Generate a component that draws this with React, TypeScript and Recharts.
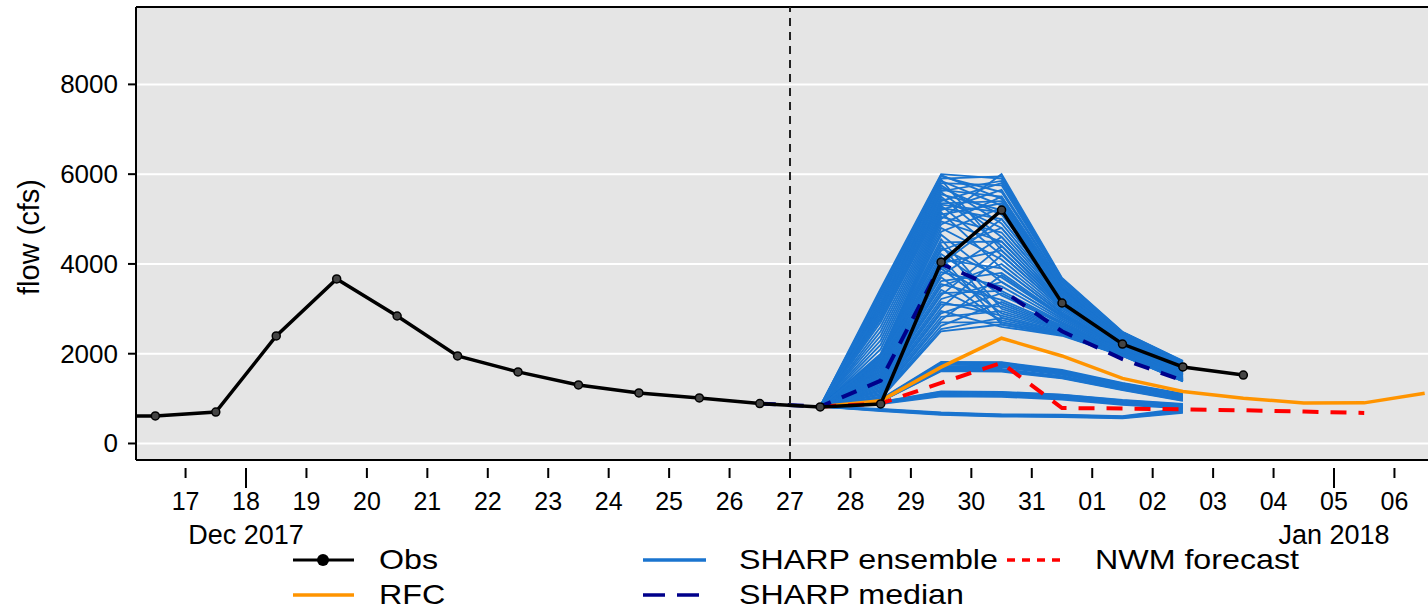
import {
  LineChart,
  Line,
  XAxis,
  YAxis,
  CartesianGrid,
  ReferenceLine,
} from "recharts";

/* ---------- data (x = day index: Dec d -> d, Jan d -> 31 + d, noon = .5) ---------- */

const obsDays = [15.5, 16.5, 17.5, 18.5, 19.5, 20.5, 21.5, 22.5, 23.5, 24.5, 25.5, 26.5, 27.5, 28.5, 29.5, 30.5, 31.5, 32.5, 33.5, 34.5];
const obsFlow = [600, 615, 700, 2395, 3665, 2840, 1950, 1595, 1305, 1125, 1015, 890, 815, 880, 4040, 5200, 3130, 2215, 1705, 1525];

const rfcDays = [27.5, 28.5, 29.5, 30.5, 31.5, 32.5, 33.5, 34.5, 35.5, 36.5, 37.5];
const rfcFlow = [820, 950, 1700, 2345, 1950, 1450, 1160, 1010, 900, 905, 1120];

const nwmDays = [27.5, 28.5, 29.5, 30.5, 31.5, 32.5, 33.5, 34.5, 35.5, 36.5];
const nwmFlow = [820, 890, 1350, 1795, 790, 780, 760, 740, 710, 680];

const medianDays = [26.5, 27.5, 28.5, 29.5, 30.5, 31.5, 32.5, 33.5];
const medianFlow = [890, 820, 1400, 4000, 3420, 2500, 1880, 1400];

// SHARP ensemble members, values at Dec 27.5 ... Jan 2.5
const ensembleDays = [27.5, 28.5, 29.5, 30.5, 31.5, 32.5, 33.5];
const ensembleMembers = [
  // early risers
  [830, 3450, 6000, 5900, 3650, 2475, 1826],
  [830, 3400, 5950, 5600, 3540, 2430, 1788],
  [820, 3350, 5900, 5950, 3670, 2480, 1830],
  [820, 3300, 5850, 5300, 3430, 2380, 1745],
  [830, 3250, 5800, 5750, 3600, 2455, 1810],
  [820, 3200, 5750, 4900, 3270, 2315, 1690],
  [810, 3150, 5700, 5100, 3350, 2350, 1720],
  [820, 3100, 5650, 5500, 3500, 2410, 1770],
  [830, 3050, 5600, 4600, 3160, 2270, 1652],
  [820, 3000, 5550, 5200, 3390, 2365, 1733],
  [810, 2950, 5500, 4400, 3080, 2235, 1622],
  [820, 2900, 5450, 4800, 3240, 2305, 1682],
  [830, 2850, 5400, 5800, 3620, 2460, 1814],
  [820, 2800, 5350, 5400, 3460, 2395, 1758],
  [820, 2700, 5300, 4200, 3010, 2205, 1597],
  [810, 2600, 5250, 5000, 3310, 2330, 1703],
  [820, 2500, 5200, 5650, 3560, 2440, 1797],
  [830, 2400, 5150, 3900, 2890, 2155, 1554],
  [820, 2300, 5100, 5350, 3450, 2390, 1754],
  [820, 2200, 5050, 4700, 3200, 2285, 1665],
  [810, 2100, 5000, 6000, 3690, 2490, 1840],
  [820, 2000, 4950, 4500, 3120, 2250, 1635],
  [830, 3380, 5980, 5450, 3480, 2405, 1767],
  [820, 3020, 5620, 5850, 3640, 2470, 1822],
  [820, 3280, 5880, 4300, 3050, 2225, 1610],
  [820, 2760, 5320, 5150, 3370, 2355, 1725],
  // main cluster
  [820, 1960, 4880, 5500, 3500, 2400, 1760],
  [820, 1950, 4800, 4100, 2970, 2190, 1584],
  [820, 1940, 4720, 5250, 3400, 2360, 1735],
  [820, 1930, 4650, 3600, 2780, 2110, 1516],
  [820, 1920, 4550, 3000, 2550, 2013, 1434],
  [830, 1890, 4480, 4500, 3120, 2252, 1637],
  [820, 1860, 4420, 2800, 2475, 1982, 1407],
  [820, 1830, 4350, 3700, 2820, 2126, 1530],
  [810, 1800, 4300, 4800, 3235, 2301, 1678],
  [820, 1770, 4220, 3300, 2665, 2061, 1474],
  [830, 1740, 4150, 2650, 2420, 1958, 1387],
  [820, 1710, 4100, 3900, 2895, 2158, 1557],
  [820, 1680, 4020, 4300, 3045, 2221, 1610],
  [810, 1650, 3950, 3100, 2590, 2030, 1448],
  [820, 1620, 3900, 2900, 2515, 1998, 1421],
  [830, 1590, 3820, 3500, 2740, 2093, 1502],
  [820, 1560, 3750, 4600, 3160, 2269, 1651],
  [820, 1530, 3700, 2700, 2440, 1967, 1394],
  [810, 1500, 3620, 3800, 2855, 2141, 1542],
  [820, 1470, 3550, 3200, 2630, 2047, 1462],
  [830, 1440, 3500, 4000, 2930, 2173, 1570],
  [820, 1410, 3420, 2750, 2455, 1973, 1400],
  [820, 1380, 3350, 3400, 2705, 2078, 1489],
  [810, 1350, 3300, 4400, 3085, 2238, 1625],
  [820, 1320, 3220, 3600, 2780, 2110, 1516],
  [830, 1290, 3150, 2850, 2495, 1990, 1414],
  [820, 1260, 3100, 3050, 2570, 2021, 1440],
  [820, 1230, 3020, 4200, 3010, 2206, 1598],
  [810, 1200, 2950, 2600, 2400, 1950, 1380],
  [820, 1170, 2900, 3350, 2685, 2070, 1482],
  [830, 1140, 2820, 2950, 2535, 2007, 1428],
  [820, 1110, 2750, 3750, 2835, 2133, 1536],
  [820, 1080, 2700, 2700, 2440, 1967, 1394],
  [810, 1050, 2620, 3150, 2610, 2038, 1455],
  [820, 1020, 2550, 2800, 2475, 1982, 1407],
  [830, 1000, 2500, 2650, 2420, 1958, 1387],
  [820, 1900, 4000, 5000, 3310, 2332, 1705],
  // ~1700 band
  [820, 990, 1820, 1810, 1640, 1350, 1110],
  [820, 980, 1800, 1800, 1620, 1340, 1100],
  [820, 975, 1790, 1780, 1610, 1330, 1090],
  [820, 970, 1780, 1790, 1600, 1320, 1080],
  [820, 960, 1750, 1760, 1580, 1300, 1060],
  [820, 960, 1720, 1740, 1560, 1280, 1040],
  [820, 955, 1710, 1720, 1545, 1270, 1030],
  [820, 950, 1700, 1700, 1530, 1260, 1020],
  [820, 950, 1680, 1660, 1500, 1240, 1000],
  [820, 940, 1650, 1640, 1480, 1220, 980],
  [820, 940, 1620, 1620, 1460, 1200, 960],
  [820, 935, 1610, 1600, 1450, 1190, 950],
  // ~1100 band
  [820, 925, 1160, 1150, 1090, 970, 880],
  [820, 920, 1150, 1140, 1080, 960, 870],
  [820, 910, 1130, 1120, 1060, 940, 850],
  [820, 905, 1120, 1110, 1050, 930, 840],
  [820, 900, 1110, 1100, 1040, 920, 830],
  [820, 900, 1090, 1080, 1020, 900, 810],
  [820, 890, 1070, 1060, 1000, 880, 800],
  [820, 880, 1050, 1040, 980, 860, 780],
  // low band
  [820, 770, 690, 650, 640, 610, 780],
  [820, 760, 680, 640, 630, 600, 760],
  [820, 750, 670, 630, 620, 590, 740],
  [820, 740, 660, 620, 610, 580, 720],
  [820, 730, 650, 610, 600, 570, 700],
  [820, 720, 640, 600, 590, 560, 680],
];

const dayTicks = [17, 18, 19, 20, 21, 22, 23, 24, 25, 26, 27, 28, 29, 30, 31, 32, 33, 34, 35, 36, 37];
const flowTicks = [0, 2000, 4000, 6000, 8000];
const monthLabels: Record<number, string> = { 18: "Dec 2017", 36: "Jan 2018" };

/* ---------- build table ---------- */

const allDays = Array.from(new Set([...obsDays, ...rfcDays, ...nwmDays, ...medianDays, ...ensembleDays])).sort((a, b) => a - b);

const chartData = allDays.map((d) => {
  const row: Record<string, number | undefined> = { day: d };
  const oi = obsDays.indexOf(d);
  if (oi >= 0) row.obs = obsFlow[oi];
  const ri = rfcDays.indexOf(d);
  if (ri >= 0) row.rfc = rfcFlow[ri];
  const ni = nwmDays.indexOf(d);
  if (ni >= 0) row.nwm = nwmFlow[ni];
  const mi = medianDays.indexOf(d);
  if (mi >= 0) row.median = medianFlow[mi];
  const ei = ensembleDays.indexOf(d);
  if (ei >= 0) ensembleMembers.forEach((m, k) => (row["e" + k] = m[ei]));
  return row;
});

const FONT = '"Liberation Sans", Arial, Helvetica, sans-serif';

const DayTick = (props: any) => {
  const { x, y, payload } = props;
  const v = payload.value as number;
  const label = v > 31 ? String(v - 31).padStart(2, "0") : String(v);
  const major = monthLabels[v] !== undefined;
  return (
    <g>
      <line x1={x} x2={x} y1={y} y2={y + (major ? 20 : 10)} stroke="#000" strokeWidth={2} />
      <text x={x} y={y + 42} textAnchor="middle" fontSize={25} fontFamily={FONT} fill="#000">
        {label}
      </text>
      {major && (
        <text x={x} y={y + 76} textAnchor="middle" fontSize={27} fontFamily={FONT} fill="#000">
          {monthLabels[v]}
        </text>
      )}
    </g>
  );
};

const FlowTick = (props: any) => {
  const { x, y, payload } = props;
  return (
    <text x={x - 8} y={y} dy={9} textAnchor="end" fontSize={26} fontFamily={FONT} fill="#000">
      {payload.value}
    </text>
  );
};

const legendText = {
  position: "absolute",
  fontSize: 28,
  fontFamily: FONT,
  lineHeight: "32px",
  color: "#000",
  whiteSpace: "nowrap",
  transform: "scaleX(1.15)",
  transformOrigin: "left center",
} as const;

const App = () => {
  return (
    <div style={{ position: "fixed", left: 0, top: 0, width: 1428, height: 613, overflow: "hidden", background: "#fff" }}>
      <LineChart width={1428} height={613} data={chartData} margin={{ top: 7, right: 0, left: 0, bottom: 0 }}>
        <CartesianGrid vertical={false} stroke="#fff" strokeWidth={2} fill="#e5e5e5" />
        <XAxis
          dataKey="day"
          type="number"
          domain={[16.18, 37.555]}
          allowDataOverflow
          ticks={dayTicks}
          interval={0}
          height={153}
          tickLine={false}
          tick={<DayTick />}
          axisLine={{ stroke: "#000", strokeWidth: 2 }}
        />
        <YAxis
          type="number"
          domain={[-368, 9724]}
          allowDataOverflow
          ticks={flowTicks}
          width={136}
          tickSize={8}
          tickLine={{ stroke: "#000", strokeWidth: 2 }}
          axisLine={{ stroke: "#000", strokeWidth: 2 }}
          tick={<FlowTick />}
        />
        <ReferenceLine y={9724} stroke="#000" strokeWidth={2} />
        {ensembleMembers.map((_, k) => (
          <Line
            key={k}
            dataKey={"e" + k}
            stroke="#1a74cf"
            strokeWidth={1.8}
            dot={false}
            activeDot={false}
            type="linear"
            isAnimationActive={false}
          />
        ))}
        <Line dataKey="rfc" stroke="#ff9400" strokeWidth={3.5} dot={false} type="linear" isAnimationActive={false} />
        <Line dataKey="nwm" stroke="#ff0000" strokeWidth={4} strokeDasharray="16 12" dot={false} type="linear" isAnimationActive={false} />
        <Line dataKey="median" stroke="#00008b" strokeWidth={4} strokeDasharray="16 12" dot={false} type="linear" isAnimationActive={false} />
        <Line
          dataKey="obs"
          stroke="#000"
          strokeWidth={3.5}
          dot={{ r: 4, fill: "#444", stroke: "#000", strokeWidth: 1.5 }}
          type="linear"
          isAnimationActive={false}
        />
        <ReferenceLine x={27} stroke="#222" strokeWidth={2} strokeDasharray="8 6" />
      </LineChart>

      <div
        style={{
          position: "absolute",
          left: 29,
          top: 237,
          transform: "translate(-50%, -50%) rotate(-90deg)",
          fontSize: 29,
          fontFamily: FONT,
          whiteSpace: "nowrap",
        }}
      >
        flow (cfs)
      </div>

      <svg style={{ position: "absolute", left: 0, top: 0 }} width={1428} height={613}>
        <line x1={293} x2={354} y1={560} y2={560} stroke="#000" strokeWidth={3} />
        <circle cx={323} cy={560} r={6} fill="#000" />
        <line x1={293} x2={354} y1={595} y2={595} stroke="#ff9400" strokeWidth={3.5} />
        <line x1={643} x2={706} y1={560} y2={560} stroke="#1a74cf" strokeWidth={3.5} />
        <line x1={643} x2={706} y1={595} y2={595} stroke="#00008b" strokeWidth={3.5} strokeDasharray="22 12" />
        <line x1={1007} x2={1062} y1={560} y2={560} stroke="#ff0000" strokeWidth={3.5} strokeDasharray="8 7" />
      </svg>
      <div style={{ ...legendText, left: 379, top: 544 }}>Obs</div>
      <div style={{ ...legendText, left: 379, top: 579 }}>RFC</div>
      <div style={{ ...legendText, left: 739, top: 544 }}>SHARP ensemble</div>
      <div style={{ ...legendText, left: 739, top: 579 }}>SHARP median</div>
      <div style={{ ...legendText, left: 1095, top: 544 }}>NWM forecast</div>
    </div>
  );
};

export default App;
